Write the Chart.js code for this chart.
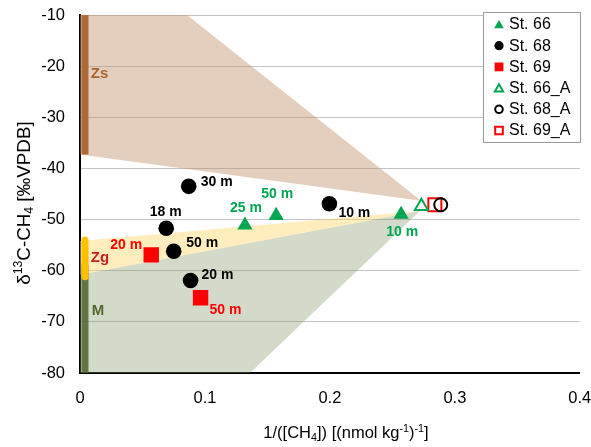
<!DOCTYPE html>
<html>
<head>
<meta charset="utf-8">
<script src="https://cdn.jsdelivr.net/npm/chart.js@4.4.1/dist/chart.umd.min.js"></script>
<style>
  html, body { margin: 0; padding: 0; background: #fff; }
  canvas { display: block; }
</style>
</head>
<body>
<canvas id="chart" width="591" height="447" style="width:591px;height:447px"></canvas>
<script>
// ---- Sample data: x = 1/[CH4] ((nmol kg-1)-1), y = δ13C-CH4 (‰ VPDB) ----
const st66X = [0.132, 0.157, 0.257];
const st66Y = [-51.1, -49.2, -49.0];
const st66Depth = ['25 m', '50 m', '10 m'];

const st68X = [0.087, 0.069, 0.075, 0.0885, 0.1996];
const st68Y = [-43.5, -51.7, -56.2, -61.9, -46.9];
const st68Depth = ['30 m', '18 m', '50 m', '20 m', '10 m'];

const st69X = [0.057, 0.0965];
const st69Y = [-56.9, -65.3];
const st69Depth = ['20 m', '50 m'];

// atmospheric end-members
const st66AX = [0.2732];
const st66AY = [-47.4];
const st68AX = [0.2887];
const st68AY = [-47.1];
const st69AX = [0.284];
const st69AY = [-47.1];

// mixing envelopes (vertices in data units)
const zsPolyX = [0, 0.0856, 0.273, 0];
const zsPolyY = [-10, -10, -46.3, -37.3];
const zgPolyX = [0, 0.272, 0];
const zgPolyY = [-54.2, -48.3, -60.8];
const mPolyX = [0, 0.272, 0.136, 0];
const mPolyY = [-60.8, -48.3, -80, -80];

// source ranges on the y axis
const zsRange = [-10, -37.3];
const zgRange = [-54.0, -61.2];
const mRange = [-58.8, -80];
const sourceNames = ['Zs', 'Zg', 'M'];

// axis ticks
const xTickLabels = ['0', '0.1', '0.2', '0.3', '0.4'];
const yTickLabels = ['-80', '-70', '-60', '-50', '-40', '-30', '-20', '-10'];

// ---- styling ----
const FONT = '"Liberation Sans", Arial, Helvetica, sans-serif';
const GREEN = '#00a651';
const BLACK = '#000000';
const RED = '#ff0000';
const BAR_X = 0.004;

const pts = (xs, ys) => xs.map((x, i) => ({ x: x, y: ys[i] }));

// label placement: [dx, dy, align] relative to each marker
const st66LabelPos = [[1, -17.5, 'center'], [1, -21, 'center'], [1, 18, 'center']];
const st68LabelPos = [[12, -4.5, 'left'], [-0.5, -16, 'center'], [12.5, -8.5, 'left'], [11, -5, 'left'], [9, 9.5, 'left']];
const st69LabelPos = [[-9, -10, 'right'], [9, 12, 'left']];
const sourceLabelStyle = [
  { x: 0.0086, y: -21.5, color: '#a8642e' },
  { x: 0.0086, y: -57.5, color: '#c8201c' },
  { x: 0.0094, y: -67.8, color: '#56692f' }
];

// draws text with sub/superscript runs, centred on (cx, cy)
function drawRich(ctx, segs, cx, cy, size, rotate) {
  ctx.save();
  ctx.translate(cx, cy);
  if (rotate) ctx.rotate(-Math.PI / 2);
  ctx.textBaseline = 'alphabetic';
  ctx.textAlign = 'left';
  ctx.fillStyle = '#000';
  const small = size * 0.65;
  let total = 0;
  const widths = segs.map(s => {
    ctx.font = (s.sup || s.sub ? small : size) + 'px ' + FONT;
    const w = ctx.measureText(s.t).width;
    total += w;
    return w;
  });
  let x = -total / 2;
  const base = size * 0.35;
  segs.forEach((s, i) => {
    ctx.font = (s.sup || s.sub ? small : size) + 'px ' + FONT;
    let y = base;
    if (s.sup) y = base - size * 0.38;
    if (s.sub) y = base + size * 0.18;
    ctx.fillText(s.t, x, y);
    x += widths[i];
  });
  ctx.restore();
}

const titlePlugin = {
  id: 'axisTitles',
  afterDraw(chart) {
    const ctx = chart.ctx;
    drawRich(ctx, [
      { t: '1/([CH' }, { t: '4', sub: true }, { t: ']) [(nmol kg' },
      { t: '-1', sup: true }, { t: ')' }, { t: '-1', sup: true }, { t: ']' }
    ], 346, 432, 16.5, false);
    drawRich(ctx, [
      { t: 'δ' }, { t: '13', sup: true }, { t: 'C-CH' }, { t: '4', sub: true }, { t: ' [‰VPDB]' }
    ], 23, 203, 18.8, true);
  }
};

const labelPlugin = {
  id: 'depthLabels',
  afterDatasetsDraw(chart) {
    const ctx = chart.ctx;
    chart.data.datasets.forEach((ds, i) => {
      if (!ds.depth) return;
      const meta = chart.getDatasetMeta(i);
      meta.data.forEach((el, j) => {
        const p = ds.labelPos[j];
        ctx.save();
        ctx.font = 'bold 14px ' + FONT;
        ctx.fillStyle = ds.labelColor;
        ctx.textAlign = p[2];
        ctx.textBaseline = 'middle';
        ctx.fillText(ds.depth[j], el.x + p[0], el.y + p[1]);
        ctx.restore();
      });
    });
    // source names along the y axis
    const xs = chart.scales.x, ys = chart.scales.y;
    sourceNames.forEach((name, k) => {
      const st = sourceLabelStyle[k];
      ctx.save();
      ctx.font = 'bold 15px ' + FONT;
      ctx.fillStyle = st.color;
      ctx.textAlign = 'left';
      ctx.textBaseline = 'middle';
      ctx.fillText(name, xs.getPixelForValue(st.x), ys.getPixelForValue(st.y));
      ctx.restore();
    });
  }
};

function drawMarker(ctx, style, x, y, r, color, open) {
  ctx.save();
  ctx.beginPath();
  if (style === 'triangle') {
    ctx.moveTo(x, y - r);
    ctx.lineTo(x + r * 0.866, y + r * 0.5);
    ctx.lineTo(x - r * 0.866, y + r * 0.5);
    ctx.closePath();
  } else if (style === 'circle') {
    ctx.arc(x, y, r, 0, Math.PI * 2);
  } else {
    const s = r * Math.SQRT1_2;
    ctx.rect(x - s, y - s, 2 * s, 2 * s);
  }
  if (open) {
    ctx.lineWidth = 2;
    ctx.strokeStyle = color;
    ctx.stroke();
  } else {
    ctx.fillStyle = color;
    ctx.fill();
  }
  ctx.restore();
}

const legendPlugin = {
  id: 'boxLegend',
  afterDraw(chart) {
    const ctx = chart.ctx;
    const left = 483.5, top = 12.5, w = 97, h = 130;
    ctx.save();
    ctx.fillStyle = '#fff';
    ctx.fillRect(left, top, w, h);
    ctx.strokeStyle = '#9a9a9a';
    ctx.lineWidth = 1;
    ctx.strokeRect(left, top, w, h);
    const items = chart.data.datasets.filter(d => d.legendText);
    items.forEach((d, i) => {
      const y = 24.5 + i * 21.2;
      const open = d.backgroundColor === 'transparent';
      const style = d.pointStyle;
      const r = style === 'triangle' ? 5.6 : (style === 'circle' ? 4.6 : 6.2);
      drawMarker(ctx, style, 499, style === 'triangle' ? y + 1 : y, open ? r - 0.8 : r, open ? d.borderColor : d.backgroundColor, open);
      ctx.font = '16px ' + FONT;
      ctx.fillStyle = '#000';
      ctx.textAlign = 'left';
      ctx.textBaseline = 'middle';
      ctx.fillText(d.legendText, 509, y + 0.5);
    });
    ctx.restore();
  }
};

function envelope(xs, ys, color) {
  return {
    data: pts(xs, ys), showLine: true, fill: 'shape', backgroundColor: color,
    borderColor: 'transparent', borderWidth: 0, pointRadius: 0, order: 10
  };
}
function sourceBar(range, color, cap) {
  return {
    data: pts([BAR_X, BAR_X], range), showLine: true, fill: false,
    borderColor: color, borderWidth: 7, borderCapStyle: cap, pointRadius: 0, order: 5
  };
}
function series(xs, ys, name, style, color, radius, open, extra) {
  return Object.assign({
    data: pts(xs, ys), legendText: name, pointStyle: style, pointRadius: radius,
    backgroundColor: open ? 'transparent' : color, borderColor: color,
    borderWidth: open ? 2 : 0, showLine: false, order: 0
  }, extra || {});
}

const datasets = [
  series(st66X, st66Y, 'St. 66', 'triangle', GREEN, 8.8, false,
    { depth: st66Depth, labelPos: st66LabelPos, labelColor: GREEN }),
  series(st68X, st68Y, 'St. 68', 'circle', BLACK, 7.8, false,
    { depth: st68Depth, labelPos: st68LabelPos, labelColor: BLACK }),
  series(st69X, st69Y, 'St. 69', 'rect', RED, 10.9, false,
    { depth: st69Depth, labelPos: st69LabelPos, labelColor: RED }),
  series(st66AX, st66AY, 'St. 66_A', 'triangle', GREEN, 7.5, true),
  series(st68AX, st68AY, 'St. 68_A', 'circle', BLACK, 6.5, true),
  series(st69AX, st69AY, 'St. 69_A', 'rect', RED, 9.2, true),
  sourceBar(zsRange, '#ad6a34', 'butt'),
  sourceBar(zgRange, '#ffc000', 'round'),
  sourceBar(mRange, 'rgba(80,100,45,0.85)', 'butt'),
  envelope(zsPolyX, zsPolyY, 'rgba(190,140,100,0.42)'),
  envelope(zgPolyX, zgPolyY, 'rgba(255,215,110,0.45)'),
  envelope(mPolyX, mPolyY, 'rgba(130,150,100,0.35)')
];

new Chart(document.getElementById('chart'), {
  type: 'scatter',
  data: { datasets: datasets },
  options: {
    responsive: false,
    animation: false,
    devicePixelRatio: 1,
    layout: { padding: { top: 15, right: 11, left: 0, bottom: 0 } },
    plugins: { legend: { display: false }, tooltip: { enabled: false } },
    elements: { line: { tension: 0 } },
    scales: {
      x: {
        type: 'linear', min: 0, max: 0.4,
        ticks: {
          stepSize: 0.1, padding: 16, color: '#000',
          font: { family: FONT, size: 16.5 },
          callback: (v, i) => xTickLabels[i]
        },
        grid: { drawOnChartArea: false, drawTicks: false },
        border: { color: '#000', width: 2 },
        afterFit(s) { s.height = 74; s.paddingLeft = 0; s.paddingRight = 0; }
      },
      y: {
        type: 'linear', min: -80, max: -10,
        ticks: {
          stepSize: 10, padding: 15, color: '#000',
          font: { family: FONT, size: 16.5 },
          callback: (v, i) => yTickLabels[i]
        },
        grid: { color: '#c4c4c4', lineWidth: 1, drawTicks: false },
        border: { color: '#000', width: 2 },
        afterFit(s) { s.width = 80; s.paddingTop = 0; s.paddingBottom = 0; }
      }
    }
  },
  plugins: [labelPlugin, titlePlugin, legendPlugin]
});
</script>
</body>
</html>
